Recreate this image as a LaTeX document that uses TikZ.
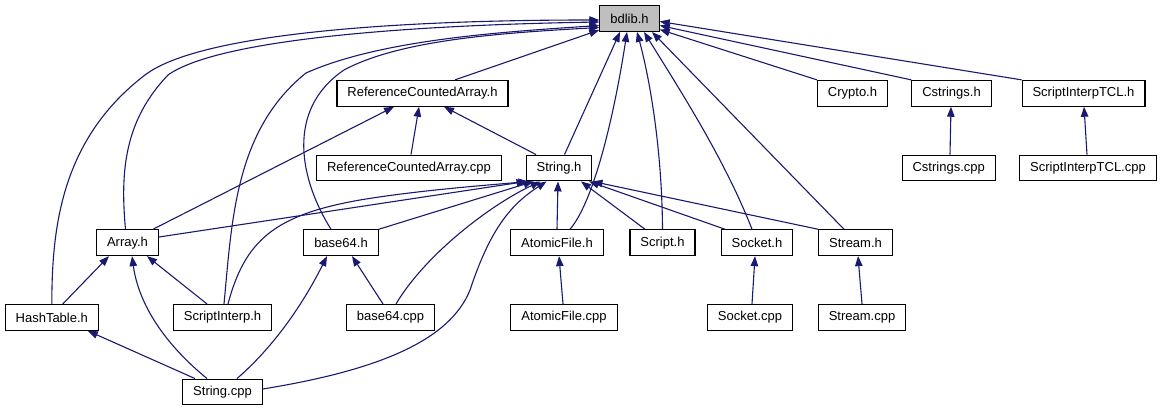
\documentclass[tikz,border=0pt]{standalone}
\usepackage{fontspec}
\setmainfont{Liberation Sans}
\usepackage{tikz}
\usetikzlibrary{arrows.meta}
\definecolor{edgeblue}{RGB}{25,25,112}
\definecolor{rootgray}{RGB}{191,191,191}
\tikzset{
  file/.style={draw=black,line width=1.1pt,fill=white,inner xsep=10.5pt,inner ysep=0pt,minimum height=25.8pt,font=\fontsize{13}{15}\selectfont},
  root/.style={file,fill=rootgray},
  dep/.style={-{Triangle[length=10pt,width=7.5pt]},edgeblue,line width=1.1pt},
}
\begin{document}
\begin{tikzpicture}[x=1pt,y=-1pt]
\useasboundingbox (0,0) rectangle (1161,411);
\node[root] (bdlib) at (629.5,18.5) {bdlib.h};
\node[file] (rca) at (422.5,93.3) {ReferenceCountedArray.h};
\node[file] (crypto) at (852.5,93.3) {Crypto.h};
\node[file] (cstr) at (951.5,93.3) {Cstrings.h};
\node[file] (tcl) at (1083.5,93.3) {ScriptInterpTCL.h};
\node[file] (rcacpp) at (409,168) {ReferenceCountedArray.cpp};
\node[file] (strh) at (559,168) {String.h};
\node[file] (cstrcpp) at (948.7,168) {Cstrings.cpp};
\node[file] (tclcpp) at (1088,168) {ScriptInterpTCL.cpp};
\node[file] (arr) at (127.5,242.7) {Array.h};
\node[file] (b64h) at (341,242.7) {base64.h};
\node[file] (afh) at (557,242.7) {AtomicFile.h};
\node[file] (scr) at (662.5,242.7) {Script.h};
\node[file] (sock) at (757,242.7) {Socket.h};
\node[file] (strm) at (855.5,242.7) {Stream.h};
\node[file] (ht) at (51.8,317.4) {HashTable.h};
\node[file] (si) at (222.5,317.4) {ScriptInterp.h};
\node[file] (b64cpp) at (390.5,317.4) {base64.cpp};
\node[file] (afcpp) at (564,317.4) {AtomicFile.cpp};
\node[file] (sockcpp) at (750,317.4) {Socket.cpp};
\node[file] (strmcpp) at (862,317.4) {Stream.cpp};
\node[file] (strcpp) at (222.5,392) {String.cpp};
\draw[dep] (ht.north) .. controls (52,230) and (60,140) .. (145,75) .. controls (200,33) and (400,20) .. ([yshift=-1.5pt]bdlib.west);
\draw[dep] ([xshift=-2pt]arr.north) .. controls (120,170) and (125,120) .. (168,75) .. controls (220,38) and (420,25) .. ([yshift=-3.5pt]bdlib.west);
\draw[dep] ([xshift=1.5pt]si.north) .. controls (232,220) and (235,130) .. (306,73) .. controls (380,40) and (500,32) .. ([yshift=-7pt]bdlib.west);
\draw[dep] ([xshift=-10pt]b64h.north) .. controls (300,180) and (285,110) .. (344,70) .. controls (400,40) and (500,33) .. ([yshift=-9pt]bdlib.west);
\draw[dep] ([xshift=32.5pt]rca.north) -- ([yshift=-11.5pt]bdlib.west);
\draw[dep] ([xshift=5.5pt]strh.north) -- ([xshift=-9.5pt]bdlib.south);
\draw[dep] ([xshift=13pt]afh.north) .. controls (595,200) and (615,110) .. ([xshift=-2.5pt]bdlib.south);
\draw[dep] (scr.north) .. controls (662,150) and (650,80) .. ([xshift=7.5pt]bdlib.south);
\draw[dep] ([xshift=-5pt]sock.north) .. controls (725,160) and (680,90) .. ([xshift=14.5pt]bdlib.south);
\draw[dep] ([xshift=-11.5pt]strm.north) -- ([xshift=22.5pt]bdlib.south);
\draw[dep] (crypto.north west) -- ([yshift=-11pt]bdlib.east);
\draw[dep] (cstr.north west) -- ([yshift=-7pt]bdlib.east);
\draw[dep] (tcl.north west) -- ([yshift=-3pt]bdlib.east);
\draw[dep] ([xshift=2pt]rcacpp.north) -- ([xshift=-3.5pt]rca.south);
\draw[dep] ([xshift=-23pt]strh.north) -- ([xshift=21.5pt]rca.south);
\draw[dep] ([xshift=25.5pt]arr.north) -- ([xshift=-28.5pt]rca.south);
\draw[dep] ([yshift=5.7pt]arr.east) -- ([xshift=1pt]strh.south west);
\draw[dep] ([xshift=5.5pt]si.north) .. controls (245,240) and (275,215) .. (360,200) .. controls (420,190) and (490,185) .. ([xshift=3pt]strh.south west);
\draw[dep] (b64h.north east) -- ([xshift=8pt]strh.south west);
\draw[dep] ([xshift=5.5pt]b64cpp.north) .. controls (425,255) and (490,205) .. ([xshift=15pt]strh.south west);
\draw[dep] ([yshift=3pt]strcpp.east) .. controls (380,370) and (450,340) .. (470,290) .. controls (490,230) and (510,205) .. ([xshift=21pt]strh.south west);
\draw[dep] (afh.north) -- ([xshift=-1pt]strh.south);
\draw[dep] ([xshift=-17.5pt]scr.north) -- ([xshift=22pt]strh.south);
\draw[dep] ([xshift=-32pt]sock.north) -- ([xshift=30pt]strh.south);
\draw[dep] (strm.north west) -- (strh.south east);
\draw[dep] ([xshift=11pt]ht.north) -- ([xshift=-18.5pt]arr.south);
\draw[dep] ([xshift=-15.5pt]si.north) -- ([xshift=19.5pt]arr.south);
\draw[dep] ([xshift=-15.5pt]strcpp.north) .. controls (160,340) and (138,300) .. ([xshift=4.5pt]arr.south);
\draw[dep] ([xshift=-27.5pt]strcpp.north) -- ([xshift=36pt]ht.south);
\draw[dep] ([xshift=14.5pt]strcpp.north) .. controls (270,350) and (300,310) .. ([xshift=-14pt]b64h.south);
\draw[dep] ([xshift=-7.5pt]b64cpp.north) -- ([xshift=11pt]b64h.south);
\draw[dep] ([xshift=-1pt]afcpp.north) -- ([xshift=2pt]afh.south);
\draw[dep] ([xshift=2pt]sockcpp.north) -- ([xshift=-2pt]sock.south);
\draw[dep] (strmcpp.north) -- ([xshift=2.5pt]strm.south);
\draw[dep] ([xshift=1.3pt]cstrcpp.north) -- ([xshift=-0.5pt]cstr.south);
\draw[dep] ([xshift=-1pt]tclcpp.north) -- ([xshift=0.5pt]tcl.south);
\end{tikzpicture}
\end{document}
